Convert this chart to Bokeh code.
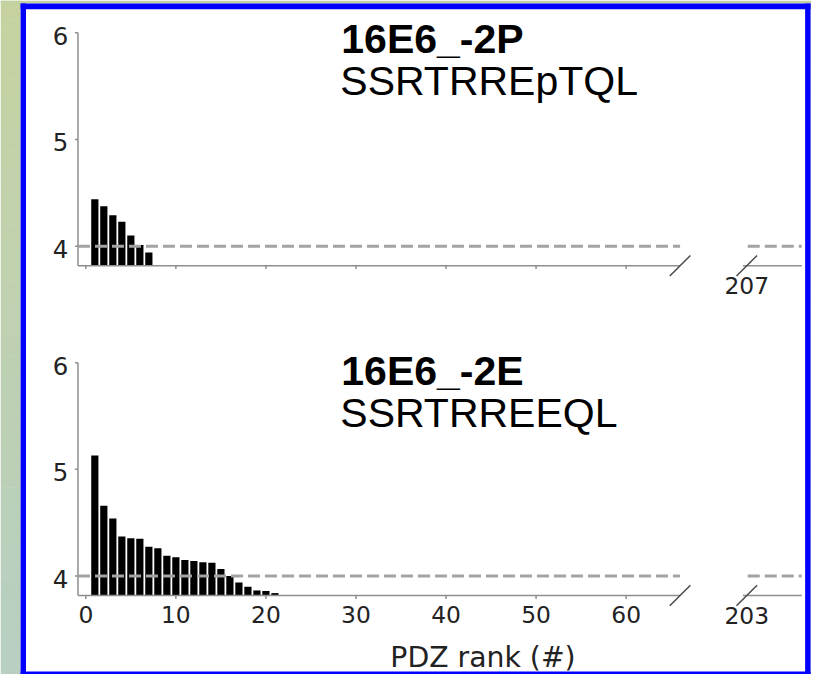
from bokeh.plotting import figure
from bokeh.models import Range1d
from bokeh.core.properties import value
from bokeh.embed import file_html
from bokeh.resources import INLINE

# ---------------- data ----------------
top_title = "16E6_-2P"
top_seq = "SSRTRREpTQL"
top_rank = [1, 2, 3, 4, 5, 6, 7]
top_vals = [4.44, 4.375, 4.29, 4.23, 4.10, 4.01, 3.94]
top_total = 207

bot_title = "16E6_-2E"
bot_seq = "SSRTRREEQL"
bot_rank = list(range(1, 22))
bot_vals = [5.13, 4.66, 4.54, 4.37, 4.355, 4.35, 4.275, 4.26, 4.19, 4.175,
            4.15, 4.14, 4.13, 4.125, 4.065, 4.0, 3.94, 3.90, 3.865, 3.86, 3.84]
bot_total = 203

y_ticks = [4, 5, 6]
x_ticks = [0, 10, 20, 30, 40, 50, 60]
threshold = 4.0
x_label = "PDZ rank (#)"

# ---------------- layout constants (reference pixel space 827 x 690) ----------------
RW, RH = 827, 690
W, H = 811, 674
S = H / RH                     # screen scale for fonts / offsets

PXU_X = 9.183                  # ref px per rank unit
PXU_Y = 109.2                  # ref px per score unit
X0 = 87                        # ref px of rank 0
XB = 761                       # ref px of the break-segment value
Y4_TOP = 251.5                 # ref px (from top) of score 4, top panel
Y4_BOT = 589.2                 # ref px (from top) of score 4, bottom panel

Y_MIN = 4 - 20.0 / PXU_Y
Y_MAX = 6.0
X_LO = (79 - X0) / PXU_X
X_HI = (693 - X0) / PXU_X
BR_LO = -4 / PXU_X
BR_HI = 56 / PXU_X

AX_COL = "#8e8e8e"
TXT_COL = "#222222"
DASH_COL = "#a3a3a3"
BLUE = "#0000fc"


def fs(px):
    return "%.1fpx" % (px * S)


p = figure(width=W, height=H, x_range=Range1d(0, RW), y_range=Range1d(0, RH),
           output_backend="svg", toolbar_location=None, min_border=0,
           x_axis_location=None, y_axis_location=None)
p.outline_line_color = None
p.background_fill_color = "white"
p.border_fill_color = "white"
p.xgrid.visible = False
p.ygrid.visible = False

p.extra_x_ranges = {
    "rank": Range1d(-X0 / PXU_X, (RW - X0) / PXU_X),
    "brk_top": Range1d(top_total - XB / PXU_X, top_total + (RW - XB) / PXU_X),
    "brk_bot": Range1d(bot_total - XB / PXU_X, bot_total + (RW - XB) / PXU_X),
}
p.extra_y_ranges = {
    "top": Range1d(4 - (RH - Y4_TOP) / PXU_Y, 4 + Y4_TOP / PXU_Y),
    "bot": Range1d(4 - (RH - Y4_BOT) / PXU_Y, 4 + Y4_BOT / PXU_Y),
}

# ---------------- frame decoration (reference pixel space, y from bottom) ----------------
n = 36
c0 = (197, 210, 160)
c1 = (184, 207, 194)
step = RH / n
for i in range(n):
    t = i / (n - 1)
    col = "#%02x%02x%02x" % tuple(int(round(c0[k] + (c1[k] - c0[k]) * t)) for k in range(3))
    top_px = RH - i * step
    p.quad(left=[0, 826], right=[20.5, RW], top=top_px, bottom=top_px - step - 0.5,
           fill_color=col, line_color=None)
p.quad(left=[0], right=[RW], top=[RH], bottom=[RH - 3], fill_color="#c3d1a2",
       line_color=None)
p.quad(left=[20.5, 820.5, 20.5, 20.5], right=[26, 826, 826, 826],
       bottom=[0, 0, RH - 9, 0], top=[RH - 3, RH - 3, RH - 3, 3],
       fill_color=BLUE, line_color=None)


def panel(yname, bname, title, seq, ranks, vals, total, show_xlabels, title_mid):
    kw = dict(x_range_name="rank", y_range_name=yname)
    kb = dict(x_range_name=bname, y_range_name=yname)
    # bars
    p.vbar(x=ranks, top=vals, bottom=Y_MIN, width=0.8, fill_color="black",
           line_color=None, **kw)
    # axis lines
    p.segment(x0=[X_LO], y0=[Y_MIN], x1=[X_HI], y1=[Y_MIN], line_color=AX_COL,
              line_width=1.5, **kw)
    p.segment(x0=[X_LO], y0=[Y_MIN], x1=[X_LO], y1=[Y_MAX], line_color=AX_COL,
              line_width=1.5, **kw)
    p.segment(x0=[total + BR_LO], y0=[Y_MIN], x1=[total + BR_HI], y1=[Y_MIN],
              line_color=AX_COL, line_width=1.5, **kb)
    # y ticks
    p.segment(x0=[X_LO - 3 / PXU_X] * len(y_ticks), y0=y_ticks,
              x1=[X_LO] * len(y_ticks), y1=y_ticks, line_color=AX_COL,
              line_width=1.5, **kw)
    # x ticks
    p.segment(x0=x_ticks, y0=[Y_MIN] * len(x_ticks), x1=x_ticks,
              y1=[Y_MIN - 3.5 / PXU_Y] * len(x_ticks), line_color=AX_COL,
              line_width=1.5, **kw)
    # threshold dashed lines
    p.segment(x0=[X_LO], y0=[threshold], x1=[X_HI], y1=[threshold],
              line_color=DASH_COL, line_width=3, line_dash="12 5", **kw)
    p.segment(x0=[total + 1 / PXU_X], y0=[threshold], x1=[total + BR_HI],
              y1=[threshold], line_color=DASH_COL, line_width=3,
              line_dash="12 5", **kb)
    # break slashes
    dx = 10.5 / PXU_X
    dy = 10.5 / PXU_Y
    p.segment(x0=[X_HI - dx], y0=[Y_MIN - dy], x1=[X_HI + dx], y1=[Y_MIN + dy],
              line_color="#4a4a4a", line_width=1.5, **kw)
    p.segment(x0=[total - dx], y0=[Y_MIN - dy], x1=[total + dx], y1=[Y_MIN + dy],
              line_color="#4a4a4a", line_width=1.5, **kb)
    # y tick labels
    p.text(x=[X_LO] * len(y_ticks), y=y_ticks, text=[str(v) for v in y_ticks],
           x_offset=-10 * S, y_offset=3 * S, text_align="right",
           text_baseline="middle", text_font=value("DejaVu Sans"),
           text_font_size=fs(25), text_color=TXT_COL, **kw)
    # x tick labels
    if show_xlabels:
        p.text(x=x_ticks, y=[Y_MIN] * len(x_ticks), text=[str(v) for v in x_ticks],
               y_offset=19 * S, text_align="center", text_baseline="middle",
               text_font=value("DejaVu Sans"), text_font_size=fs(24),
               text_color=TXT_COL, **kw)
    p.text(x=[total], y=[Y_MIN], text=[str(total)], y_offset=20 * S,
           text_align="center", text_baseline="middle",
           text_font=value("DejaVu Sans"), text_font_size=fs(24),
           text_color=TXT_COL, **kb)
    # titles (reference pixel space)
    p.text(x=[347.5], y=[RH - title_mid], text=[title], text_align="left",
           text_baseline="middle", text_font=value("Liberation Sans"),
           text_font_size=fs(42), text_font_style="bold", text_color="black")
    p.text(x=[346.5], y=[RH - title_mid - 43.5], text=[seq], text_align="left",
           text_baseline="middle", text_font=value("Liberation Sans"),
           text_font_size=fs(42), text_color="black")


panel("top", "brk_top", top_title, top_seq, top_rank, top_vals, top_total, False, 39)
panel("bot", "brk_bot", bot_title, bot_seq, bot_rank, bot_vals, bot_total, True, 379)

# x axis label
p.text(x=[492], y=[RH - 673], text=[x_label], text_align="center",
       text_baseline="middle", text_font=value("DejaVu Sans"),
       text_font_size=fs(29), text_color=TXT_COL)

open("out.html", "w").write(file_html(p, INLINE))
